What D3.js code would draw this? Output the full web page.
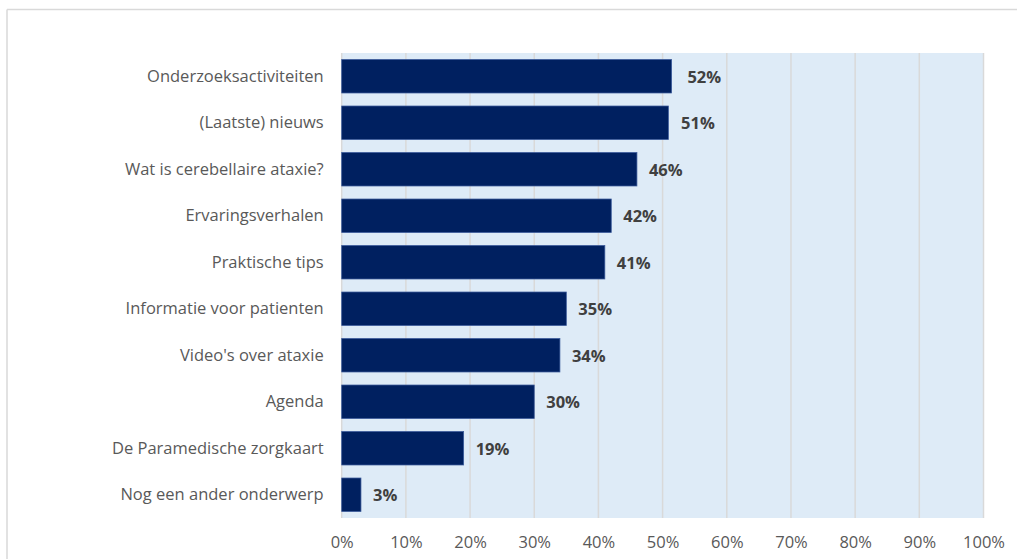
<!DOCTYPE html>
<html>
<head>
<meta charset="utf-8">
<script src="https://cdn.jsdelivr.net/npm/d3@7/dist/d3.min.js"></script>
<style>
  html, body { margin: 0; padding: 0; background: #ffffff; }
  svg { display: block; }
  text { font-family: "Open Sans", Lato, sans-serif; }
</style>
</head>
<body>
<svg id="chart" width="1017" height="559"></svg>
<script>
const categories = [
  "Onderzoeksactiviteiten",
  "(Laatste) nieuws",
  "Wat is cerebellaire ataxie?",
  "Ervaringsverhalen",
  "Praktische tips",
  "Informatie voor patienten",
  "Video's over ataxie",
  "Agenda",
  "De Paramedische zorgkaart",
  "Nog een ander onderwerp"
];
const values = [51.4, 50.9, 46, 42, 41, 35, 34, 30, 19, 3];
const valueLabels = ["52%", "51%", "46%", "42%", "41%", "35%", "34%", "30%", "19%", "3%"];
const tickValues = [0, 10, 20, 30, 40, 50, 60, 70, 80, 90, 100];

const svg = d3.select("#chart");
const FONT = "'Open Sans', Lato, sans-serif";
const FS = 16.5;

// outer chart border (top and left visible)
svg.append("line").attr("x1", 7).attr("x2", 1017).attr("y1", 9.5).attr("y2", 9.5)
  .attr("stroke", "#d9d9d9").attr("stroke-width", 1.5);
svg.append("line").attr("x1", 7).attr("x2", 7).attr("y1", 9.5).attr("y2", 559)
  .attr("stroke", "#d9d9d9").attr("stroke-width", 1.5);

const plot = { left: 341.7, right: 983.5, top: 53, bottom: 518 };

const x = d3.scaleLinear().domain([0, 100]).range([plot.left, plot.right]);
const y = d3.scaleBand().domain(categories).range([plot.top, plot.bottom])
  .paddingInner(0.28).paddingOuter(0.14);

// plot background
svg.append("rect")
  .attr("x", plot.left).attr("y", plot.top)
  .attr("width", plot.right - plot.left).attr("height", plot.bottom - plot.top)
  .attr("fill", "#deebf7");

// gridlines
svg.append("g").selectAll("line").data(tickValues).join("line")
  .attr("x1", d => x(d)).attr("x2", d => x(d))
  .attr("y1", plot.top).attr("y2", plot.bottom)
  .attr("stroke", "#d9d9d9").attr("stroke-width", 1.5);

// bars
svg.append("g").selectAll("rect").data(values).join("rect")
  .attr("x", x(0))
  .attr("y", (d, i) => y(categories[i]))
  .attr("width", d => x(d) - x(0))
  .attr("height", y.bandwidth())
  .attr("fill", "#002060")
  .attr("stroke", "#3a5a9a").attr("stroke-width", 0.75);

// value labels (placed just past the end of the labelled value)
svg.append("g").selectAll("text").data(valueLabels).join("text")
  .attr("x", (d, i) => x(Math.max(values[i], parseFloat(d))) + 12)
  .attr("y", (d, i) => y(categories[i]) + y.bandwidth() / 2)
  .attr("dy", "0.38em")
  .attr("font-size", FS).attr("font-weight", "bold")
  .attr("fill", "#404040")
  .style("font-family", FONT)
  .text(d => d);

// category axis labels
const yAxis = d3.axisLeft(y).tickSize(0).tickPadding(18);
const gy = svg.append("g").attr("transform", `translate(${plot.left},0)`).call(yAxis);
gy.select(".domain").remove();
gy.selectAll("text").attr("font-size", FS).attr("fill", "#595959")
  .style("font-family", FONT);

// x axis tick labels
const xAxis = d3.axisBottom(x).tickValues(tickValues).tickFormat(d => d + "%").tickSize(0).tickPadding(18);
const gx = svg.append("g").attr("transform", `translate(0,${plot.bottom})`).call(xAxis);
gx.select(".domain").remove();
gx.selectAll("text").attr("font-size", FS).attr("fill", "#595959")
  .style("font-family", FONT);
</script>
</body>
</html>
